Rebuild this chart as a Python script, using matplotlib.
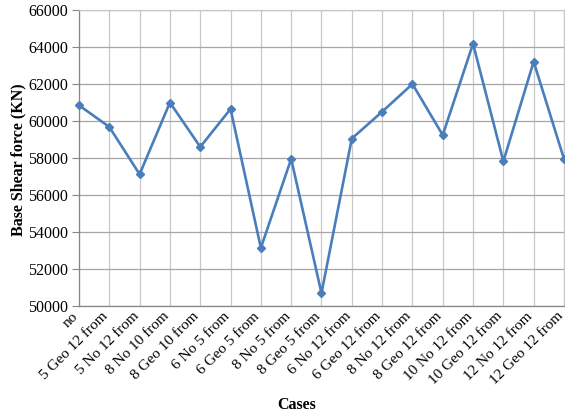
import matplotlib
matplotlib.use("Agg")
import matplotlib.pyplot as plt
import matplotlib.transforms as mtransforms
import numpy as np

cases = ["no", "5 Geo 12 from", "5 No 12 from", "8 No 10 from", "8 Geo 10 from",
         "6 No 5 from", "6 Geo 5 from", "8 No 5 from", "8 Geo 5 from", "6 No 12 from",
         "6 Geo 12 from", "8 No 12 from", "8 Geo 12 from", "10 No 12 from",
         "10 Geo 12 from", "12 No 12 from", "12 Geo 12 from"]
base_shear = [60850, 59680, 57120, 61000, 58600, 60650, 53140, 57950, 50690,
              59050, 60500, 62000, 59240, 64180, 57820, 63210, 57950]
y_ticks = [50000, 52000, 54000, 56000, 58000, 60000, 62000, 64000, 66000]

plt.rcParams['font.family'] = ['Liberation Serif', 'DejaVu Serif']

fig = plt.figure(figsize=(5.65, 4.18), dpi=100)
ax = fig.add_axes([0.1398, 0.268, 0.8584, 0.708])

x = np.arange(len(cases))
ax.plot(x, base_shear, color="#4a7ebb", lw=1.9, marker="D", ms=4,
        markerfacecolor="#4a7ebb", markeredgecolor="#4a7ebb", clip_on=False, zorder=3)

ax.set_xlim(0, len(cases) - 1)
ax.set_ylim(50000, 66000)
ax.set_yticks(y_ticks)
ax.set_yticklabels([str(v) for v in y_ticks], fontsize=11.5)
ax.set_xticks(x)
ax.set_xticklabels(cases, rotation=45, ha="right", va="center",
                   rotation_mode="anchor", fontsize=11)
ax.tick_params(axis="x", length=0, pad=6)
ax.tick_params(axis="y", length=5, color="#868686", pad=3)
off = mtransforms.ScaledTranslation(-3 / 100, 0, fig.dpi_scale_trans)
for lab in ax.get_xticklabels():
    lab.set_transform(lab.get_transform() + off)

ax.grid(True, axis="y", color="#a6a6a6", lw=0.9)
ax.grid(True, axis="x", color="#c8c8c8", lw=0.9)
ax.set_axisbelow(True)
for s in ["top", "right"]:
    ax.spines[s].set_color("#c8c8c8")
    ax.spines[s].set_linewidth(0.9)
for s in ["left", "bottom"]:
    ax.spines[s].set_color("#868686")
    ax.spines[s].set_linewidth(0.9)

fig.text(18 / 565, 1 - 160 / 418, "Base Shear force (KN)", rotation=90,
         ha="center", va="center", fontsize=11.5, fontweight="bold")
fig.text(297 / 565, 1 - 405 / 418, "Cases", ha="center", va="center",
         fontsize=11.5, fontweight="bold")

fig.savefig("out.png", dpi=100)
